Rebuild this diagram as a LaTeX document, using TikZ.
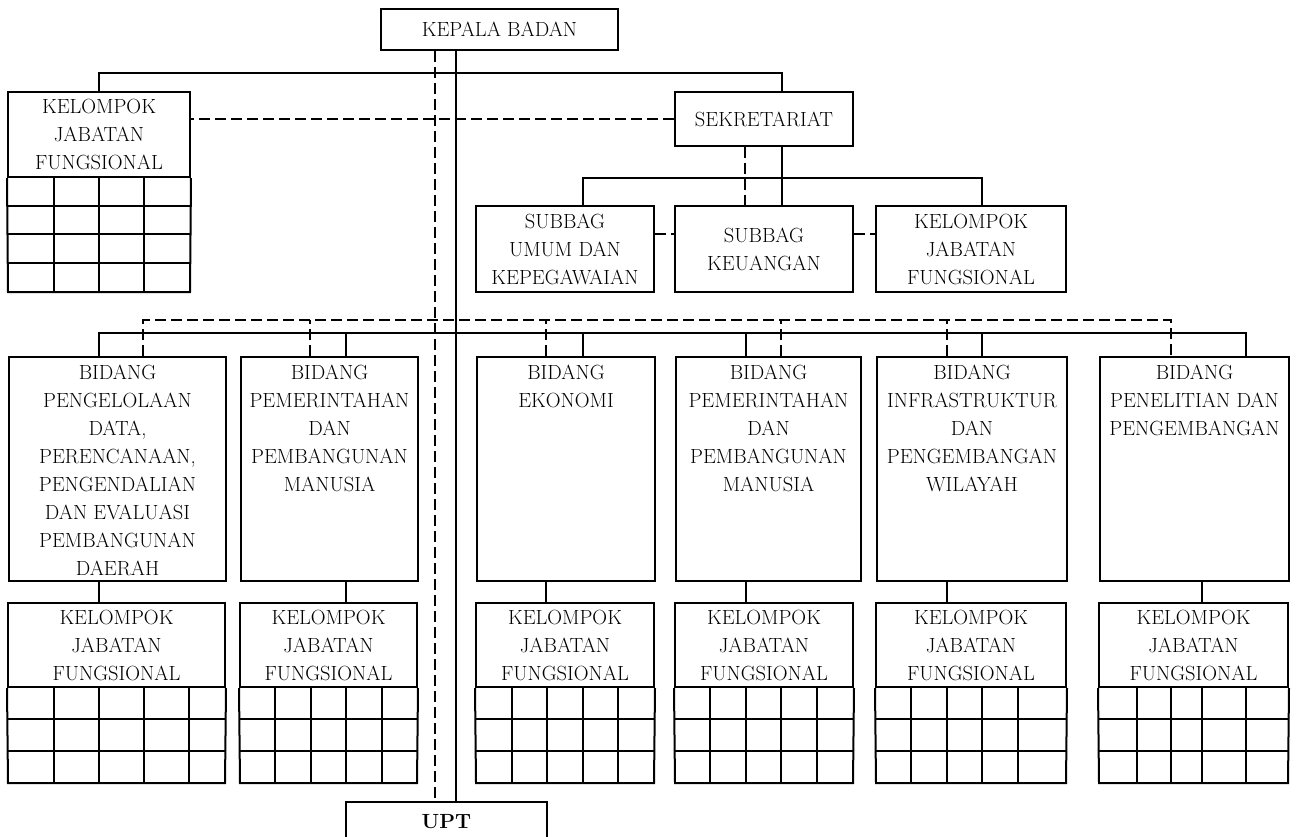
\documentclass[tikz,border=0pt]{standalone}
\usepackage{fontspec}
\usepackage{tikz}

\begin{document}
\begin{tikzpicture}[x=1pt, y=-1pt, line width=2pt,
	font=\fontsize{20.5}{28}\selectfont,
	kotak/.style={draw, rectangle, align=center},
	bidangbox/.style={draw, rectangle, inner sep=0pt, anchor=north west},
	isi/.style={align=center, anchor=north, inner sep=0pt, yshift=-8pt},
	putus/.style={dash pattern=on 11pt off 5pt, line width=2.4pt}]
	\useasboundingbox (0,0) rectangle (1296,837);

	% pimpinan, sekretariat
	\node[kotak, minimum width=237, minimum height=41] (kepala) at (499.5,29.5) {KEPALA BADAN};
	\node[kotak, minimum width=178, minimum height=54] (sek) at (764,119) {SEKRETARIAT};
	\node[kotak, minimum width=182, minimum height=85] (kjf0) at (99,134.5) {KELOMPOK\\JABATAN\\FUNGSIONAL};
	\node[kotak, minimum width=178, minimum height=86] (umum) at (565,249) {SUBBAG\\UMUM DAN\\KEPEGAWAIAN};
	\node[kotak, minimum width=178, minimum height=86] (keu) at (764,249) {SUBBAG\\KEUANGAN};
	\node[kotak, minimum width=190, minimum height=86] (kjfs) at (971,249) {KELOMPOK\\JABATAN\\FUNGSIONAL};
	\node[kotak, minimum width=201, minimum height=40] (upt) at (446.5,822) {\bfseries UPT};

	\draw (kjf0.south west) -- (8,292) -- (190,292) -- (kjf0.south east);
	\foreach \r in {206,234,263}
		\draw (8,\r) -- (190,\r);
	\foreach \c in {54,99,144}
		\draw (\c,177) -- (\c,292);

	% bidang
	\foreach \n/\xa/\xb/\teks in {
		1/8/225/{BIDANG\\PENGELOLAAN\\DATA,\\PERENCANAAN,\\PENGENDALIAN\\DAN EVALUASI\\PEMBANGUNAN\\DAERAH},
		2/240/417/{BIDANG\\PEMERINTAHAN\\DAN\\PEMBANGUNAN\\MANUSIA},
		3/476/654/{BIDANG\\EKONOMI},
		4/675/860/{BIDANG\\PEMERINTAHAN\\DAN\\PEMBANGUNAN\\MANUSIA},
		5/876/1066/{BIDANG\\INFRASTRUKTUR\\DAN\\PENGEMBANGAN\\WILAYAH},
		6/1099/1288/{BIDANG\\PENELITIAN DAN\\PENGEMBANGAN}} {
		\node[bidangbox, minimum width={\xb-\xa}, minimum height=224] (bid\n) at (\xa,356) {};
		\node[isi] at (bid\n.north) {\teks};
	}

	% kelompok jabatan fungsional tiap bidang
	\foreach \n/\xa/\xb/\kolom in {
		1/8/225/{54,99,144,189},
		2/240/417/{275,311,346,382},
		3/476/654/{512,547,583,618},
		4/675/853/{710,746,781,817},
		5/876/1066/{911,947,982,1018},
		6/1099/1288/{1137,1171,1202,1246}} {
		\node[kotak, minimum width={\xb-\xa}, minimum height=84] (kjf\n) at ({(\xa+\xb)/2},645) {KELOMPOK\\JABATAN\\FUNGSIONAL};
		\draw (kjf\n.south west) -- (\xa,783) -- (\xb,783) -- (kjf\n.south east);
		\foreach \r in {719,751}
			\draw (\xa,\r) -- (\xb,\r);
		\foreach \c in \kolom
			\draw (\c,687) -- (\c,783);
	}

	% garis komando
	\draw (kepala.south -| 456,0) -- (upt.north -| 456,0);
	\draw (kjf0.north) -- (99,73) -| (sek.north -| 782,0);
	\draw (sek.south -| 782,0) -- (keu.north -| 782,0);
	\draw (umum.north -| 583,0) -- (583,178) -| (kjfs.north -| 982,0);
	\draw (bid1.north -| 99,0) -- (99,333) -| (bid6.north -| 1246,0);
	\foreach \n/\x in {2/346,3/583,4/746,5/982}
		\draw (bid\n.north -| \x,0) -- (\x,333);
	\foreach \n/\x in {1/99,2/346,3/546,4/746,5/947,6/1202}
		\draw (bid\n.south -| \x,0) -- (kjf\n.north -| \x,0);

	% garis koordinasi
	\draw[putus] (kepala.south -| 435,0) -- (upt.north -| 435,0);
	\draw[putus] (sek.west) -- (sek.west -| kjf0.east);
	\draw[putus] (sek.south -| 745,0) -- (keu.north -| 745,0);
	\draw[putus] ([yshift=15pt]umum.east) -- ([yshift=15pt]keu.west);
	\draw[putus] ([yshift=15pt]keu.east) -- ([yshift=15pt]kjfs.west);
	\draw[putus] (bid1.north -| 143,0) -- (143,320) -| (bid6.north -| 1171,0);
	\foreach \n/\x in {2/310,3/546,4/781,5/947}
		\draw[putus] (bid\n.north -| \x,0) -- (\x,320);
%	\node (judul) at (648,-20) {BAGAN};
\end{tikzpicture}
\end{document}
